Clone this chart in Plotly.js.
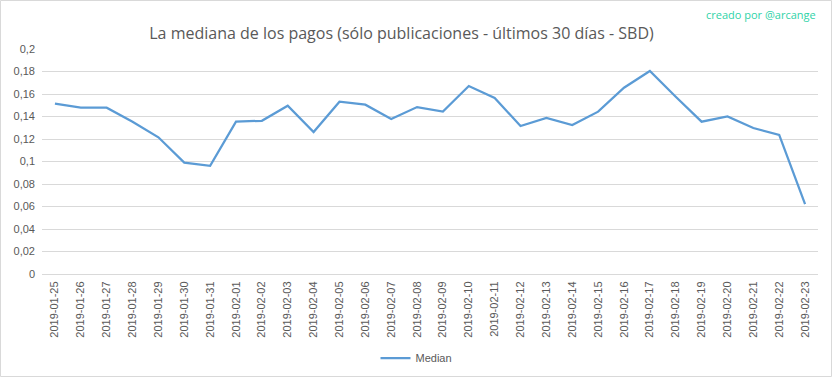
<!DOCTYPE html>
<html>
<head>
<meta charset="utf-8">
<script src="https://cdn.plot.ly/plotly-3.0.1.min.js"></script>
<style>
html,body{margin:0;padding:0;background:#fff;}
#chart{width:833px;height:378px;}
</style>
</head>
<body>
<div id="chart"></div>
<script>
var dates = ["2019-01-25","2019-01-26","2019-01-27","2019-01-28","2019-01-29","2019-01-30","2019-01-31",
"2019-02-01","2019-02-02","2019-02-03","2019-02-04","2019-02-05","2019-02-06","2019-02-07","2019-02-08",
"2019-02-09","2019-02-10","2019-02-11","2019-02-12","2019-02-13","2019-02-14","2019-02-15","2019-02-16",
"2019-02-17","2019-02-18","2019-02-19","2019-02-20","2019-02-21","2019-02-22","2019-02-23"];
var median = [0.1514,0.1478,0.1478,0.1354,0.1215,0.0990,0.0962,
0.1354,0.1362,0.1496,0.1262,0.1532,0.1505,0.1378,0.1484,
0.1443,0.1671,0.1564,0.1316,0.1387,0.1324,0.1443,0.1656,
0.1804,0.1576,0.1354,0.1401,0.1298,0.1236,0.0622];
var yTickVals = [0,0.02,0.04,0.06,0.08,0.1,0.12,0.14,0.16,0.18,0.2];
var yTickText = ["0","0,02","0,04","0,06","0,08","0,1","0,12","0,14","0,16","0,18","0,2"];

var L=42, R=818, T=49, B=274, W=833, H=378;
function px(x){return (x-L)/(R-L);}
function py(y){return (B-y)/(B-T);}

var trace = {
  x: dates, y: median, type: 'scatter', mode: 'lines', name: 'Median',
  line: {color: '#5b9bd5', width: 2.25}
};
var layout = {
  width: W, height: H,
  margin: {l: L, r: W-R, t: T, b: H-B, pad: 0, autoexpand: false},
  paper_bgcolor: '#ffffff', plot_bgcolor: '#ffffff',
  title: {text: 'La mediana de los pagos (sólo publicaciones - últimos 30 días - SBD)',
    font: {family: 'Open Sans, sans-serif', size: 16, color: '#595959'},
    x: 0.482, xanchor: 'center', y: 1-33/H, yanchor: 'middle'},
  showlegend: true,
  legend: {orientation: 'h', xref: 'container', yref: 'container', x: 0.5, xanchor: 'center',
    y: 1-358/H, yanchor: 'middle',
    font: {family: 'Liberation Sans, sans-serif', size: 11, color: '#595959'}},
  xaxis: {type: 'category', range: [-0.5, dates.length-0.5], tickangle: -90,
    showgrid: false, showline: true, linecolor: '#d9d9d9', linewidth: 1, ticks: '',
    ticklabelstandoff: 2,
    tickfont: {family: 'Liberation Sans, sans-serif', size: 11, color: '#595959'},
    fixedrange: true},
  yaxis: {range: [0, 0.2], tickvals: yTickVals, ticktext: yTickText,
    showgrid: true, gridcolor: '#d9d9d9', gridwidth: 1, zeroline: false, showline: false, ticks: '',
    ticklabelstandoff: 6,
    tickfont: {family: 'Liberation Sans, sans-serif', size: 11, color: '#595959'},
    fixedrange: true},
  annotations: [{text: 'creado por @arcange', xref: 'paper', yref: 'paper', x: px(818), y: py(14),
    xanchor: 'right', yanchor: 'middle', showarrow: false,
    font: {family: 'Open Sans, sans-serif', size: 11, color: '#2fd3a8'}}],
  shapes: [{type: 'rect', xref: 'paper', yref: 'paper', x0: px(0.5), x1: px(831.5), y0: py(0.5), y1: py(376.5),
    line: {color: '#d9d9d9', width: 1}, fillcolor: 'rgba(0,0,0,0)', layer: 'below'}]
};
Plotly.newPlot('chart', [trace], layout, {displayModeBar: false, staticPlot: true});
</script>
</body>
</html>
